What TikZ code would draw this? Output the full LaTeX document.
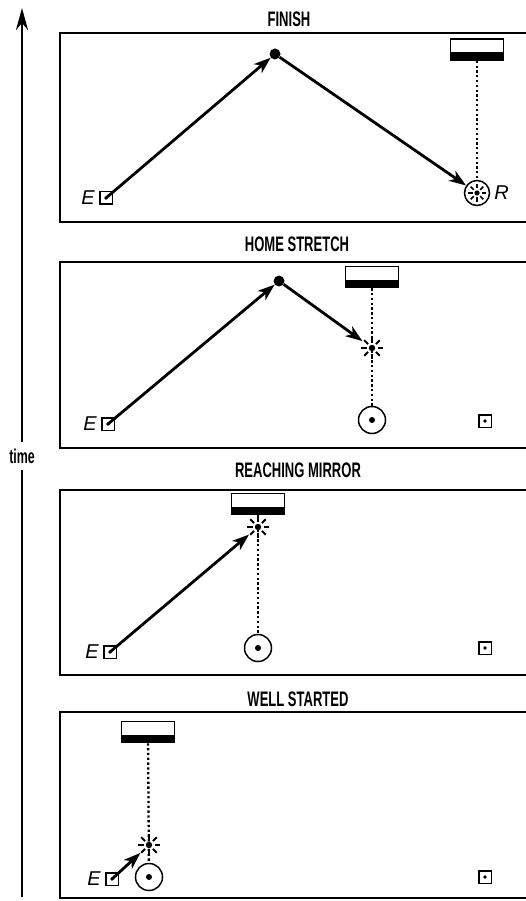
\documentclass[tikz,border=0pt]{standalone}
\usepackage{fontspec}
\setmainfont{Liberation Sans}
\newfontfamily\condfont[FakeStretch=0.62]{Liberation Sans}
\usetikzlibrary{arrows.meta,positioning}

\tikzset{
  panel/.style={line width=1.5pt},
  heading/.style={font=\condfont\bfseries\fontsize{21}{21}\selectfont,inner sep=0pt},
  elabel/.style={font=\itshape\fontsize{20}{20}\selectfont,inner sep=1pt},
  ray/.style={line width=2.8pt,-{Stealth[length=17pt,width=12pt,inset=5pt]}},
  beam/.style={line width=2.3pt,dash pattern=on 2.3pt off 2.5pt},
  station/.style={draw,line width=1.5pt,minimum size=12.5pt,inner sep=0pt,
    path picture={\fill (path picture bounding box.center) circle (1.8pt);}},
  peak/.style={circle,fill,minimum size=11pt,inner sep=0pt},
  mirror/.style={draw,line width=1.5pt,minimum width=53pt,minimum height=21pt,inner sep=0pt,
    path picture={\fill (path picture bounding box.south west) rectangle ([yshift=7.5pt]path picture bounding box.south east);}},
  burst/.style={circle,minimum size=23pt,inner sep=0pt,
    path picture={\fill (path picture bounding box.center) circle (3.2pt);
      \foreach \a in {0,45,...,315}
        \draw[line width=2pt] ([shift={(\a:5.5pt)}]path picture bounding box.center)
          -- ([shift={(\a:11pt)}]path picture bounding box.center);}},
  target/.style={circle,draw,line width=1.5pt,minimum size=27pt,inner sep=0pt,
    path picture={\fill (path picture bounding box.center) circle (3pt);}},
  receiver/.style={circle,draw,line width=1.5pt,minimum size=25pt,inner sep=0pt,
    path picture={\fill (path picture bounding box.center) circle (2.6pt);
      \foreach \a in {0,45,...,315}
        \draw[line width=1.7pt] ([shift={(\a:4.5pt)}]path picture bounding box.center)
          -- ([shift={(\a:9pt)}]path picture bounding box.center);}}
}

\begin{document}
\begin{tikzpicture}[x=1pt,y=-1pt]
  \useasboundingbox (0,0) rectangle (526,901);

  % time axis
  \node[font=\condfont\bfseries\fontsize{20}{20}\selectfont,inner sep=6pt] (time) at (22,456) {time};
  \coordinate (tlow) at (22,897);
  \coordinate (thigh) at (22,8);
  \draw[line width=2.6pt] (tlow) -- (time);
  \draw[line width=2.6pt,-{Stealth[length=22pt,width=12pt,inset=7pt]}] (time) -- (thigh);

  % frames, open to the right
  \foreach \t/\b in {33/222,262/448,490/675,712/898}
    \draw[panel] (526,\t) -| (60,\b) -- (526,\b);

  % finish
  \node[heading] (h1) at (289,19) {FINISH};
  \node[station,label={[elabel,label distance=3pt]left:E}] (E1) at (106,198) {};
  \node[peak] (P1) at (275,54) {};
  \node[mirror] (M1) at (477,49.5) {};
  \node[receiver,label={[elabel,label distance=3pt]right:R}] (R1) at (477,193) {};
  \draw[beam] (M1) -- (R1);
  \draw[ray] (E1.center) -- (P1);
  \draw[ray] (P1) -- (R1);

  % home stretch
  \node[heading] (h2) at (297,244) {HOME STRETCH};
  \node[station,label={[elabel,label distance=3pt]left:E}] (E2) at (108,424) {};
  \node[peak] (P2) at (279,281) {};
  \node[mirror] (M2) at (372,277) {};
  \node[burst] (B2) at (372,348) {};
  \node[target] (C2) at (372,420) {};
  \node[station] (S2) at (485,421) {};
  \draw[beam] (M2) -- (C2);
  \draw[ray] (E2.center) -- (P2);
  \draw[ray] (P2) -- (B2);

  % reaching mirror
  \node[heading] (h3) at (298,470) {REACHING MIRROR};
  \node[station,label={[elabel,label distance=3pt]left:E}] (E3) at (110,652) {};
  \node[mirror] (M3) at (258,504) {};
  \node[burst] (B3) at (258,527) {};
  \node[target] (C3) at (258,648) {};
  \node[station] (S3) at (485,648) {};
  \draw[beam] (M3) -- (C3);
  \draw[ray] (E3.center) -- (B3);

  % well started
  \node[heading] (h4) at (298,699) {WELL STARTED};
  \node[station,label={[elabel,label distance=3pt]left:E}] (E4) at (112,879) {};
  \node[mirror] (M4) at (148,732) {};
  \node[burst] (B4) at (149,845) {};
  \node[target] (C4) at (149,877) {};
  \node[station] (S4) at (485,877) {};
  \draw[beam] (M4) -- (C4);
  \draw[ray] (E4.center) -- (B4);
\end{tikzpicture}
\end{document}
